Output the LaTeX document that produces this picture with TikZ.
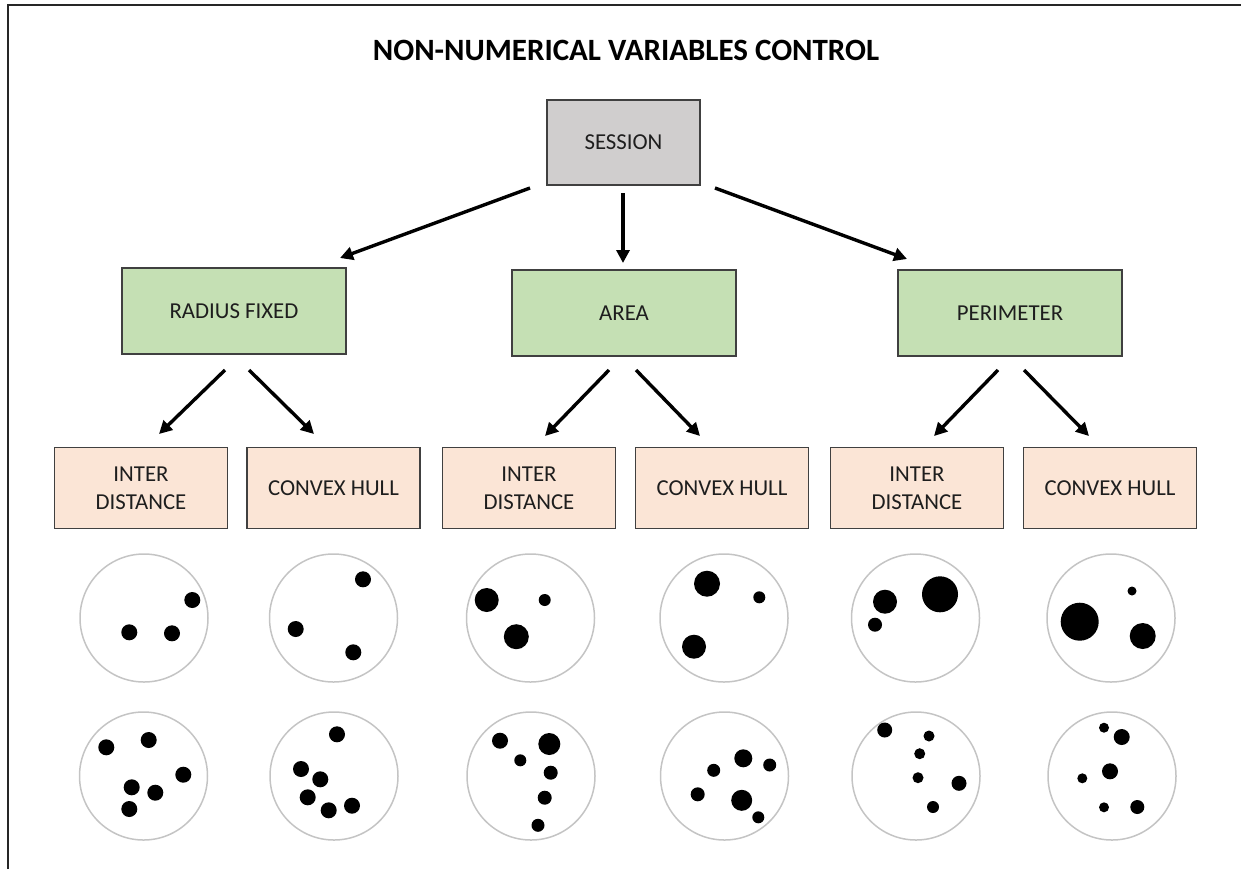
\documentclass[tikz,border=0pt]{standalone}
\usepackage{fontspec}
\setmainfont{Carlito}
\usetikzlibrary{arrows.meta}
\definecolor{sessfill}{HTML}{D0CECE}
\definecolor{greenfill}{HTML}{C5E0B4}
\definecolor{pinkfill}{HTML}{FBE5D6}
\definecolor{boxline}{HTML}{404040}
\definecolor{ringline}{HTML}{C4C4C4}
\definecolor{txt}{HTML}{1E1E1E}
\newcommand\spot[3]{\fill[black] (#1,#2) circle[radius=#3*0.5pt];}
\begin{document}
\begin{tikzpicture}[x=0.5pt,y=-0.5pt,
  basebox/.style={draw=boxline,line width=0.8pt,inner sep=0pt,text=txt,
    font=\fontsize{11.4}{14}\selectfont,align=center},
  sessbox/.style={basebox,fill=sessfill,minimum width=76.5pt,minimum height=42.5pt},
  greenbox/.style={basebox,fill=greenfill,minimum width=112pt,minimum height=43pt},
  pinkbox/.style={basebox,fill=pinkfill,minimum width=86.5pt,minimum height=40.5pt},
  ring/.style={circle,draw=ringline,line width=0.75pt,minimum size=64pt,inner sep=0pt},
  arr/.style={line width=1.7pt,-{Triangle[length=6.5pt,width=6.5pt]}},
  frame/.style={line width=1pt,draw=black!85}]
\useasboundingbox (0,0) rectangle (1241,869);
\draw[frame] (8,869) -- (8,5) -- (1241,5);
\node[font=\fontsize{15.5}{18}\selectfont\bfseries] (title) at (626,50) {NON-NUMERICAL VARIABLES CONTROL};
% boxes
\node[sessbox] (session) at (623.5,142.5) {SESSION};
\node[greenbox] (radius) at (234,311) {RADIUS FIXED};
\node[greenbox] (area) at (624,313) {AREA};
\node[greenbox] (perim) at (1010,313) {PERIMETER};
\node[pinkbox] (rid) at (141,488) {INTER\\DISTANCE};
\node[pinkbox] (rch) at (333.5,488) {CONVEX HULL};
\node[pinkbox] (aid) at (529,488) {INTER\\DISTANCE};
\node[pinkbox] (ach) at (722,488) {CONVEX HULL};
\node[pinkbox] (pid) at (917,488) {INTER\\DISTANCE};
\node[pinkbox] (pch) at (1110,488) {CONVEX HULL};
% arrow ends
\coordinate (sL0) at (530,188); \coordinate (sL1) at (340,258);
\coordinate (sM0) at (623,193); \coordinate (sM1) at (623,263);
\coordinate (sR0) at (715,188); \coordinate (sR1) at (907,259);
\coordinate (rL0) at (225,370); \coordinate (rL1) at (159,434);
\coordinate (rR0) at (249,370); \coordinate (rR1) at (314,434);
\coordinate (aL0) at (609,370); \coordinate (aL1) at (545,436);
\coordinate (aR0) at (636,370); \coordinate (aR1) at (700,436);
\coordinate (pL0) at (998,370); \coordinate (pL1) at (934,436);
\coordinate (pR0) at (1024,370); \coordinate (pR1) at (1089,436);
\draw[arr] (sL0) -- (sL1);
\draw[arr] (sM0) -- (sM1);
\draw[arr] (sR0) -- (sR1);
\draw[arr] (rL0) -- (rL1);
\draw[arr] (rR0) -- (rR1);
\draw[arr] (aL0) -- (aL1);
\draw[arr] (aR0) -- (aR1);
\draw[arr] (pL0) -- (pL1);
\draw[arr] (pR0) -- (pR1);
% rings row 1
\node[ring] (r11) at (144,618) {};
\node[ring] (r12) at (333.5,618) {};
\node[ring] (r13) at (530.5,618) {};
\node[ring] (r14) at (724,618) {};
\node[ring] (r15) at (915.5,618) {};
\node[ring] (r16) at (1111,618) {};
% rings row 2
\node[ring] (r21) at (143.5,776) {};
\node[ring] (r22) at (334,776) {};
\node[ring] (r23) at (531,776) {};
\node[ring] (r24) at (724.5,776) {};
\node[ring] (r25) at (916,776) {};
\node[ring] (r26) at (1112,776) {};
% dots row 1
\spot{192.3}{600}{8} \spot{129.3}{632.3}{8} \spot{172}{633.3}{8}
\spot{363}{579.3}{8} \spot{295.7}{629}{8} \spot{353.3}{652.3}{8}
\spot{486.7}{600}{12} \spot{544.7}{600}{6} \spot{516.3}{636.7}{12.5}
\spot{707}{583.7}{13} \spot{759.3}{597.3}{6} \spot{694}{646.7}{12}
\spot{885}{601.7}{12} \spot{940}{594.3}{18} \spot{875}{624.7}{7}
\spot{1079.7}{621.7}{19} \spot{1142.7}{636}{13} \spot{1132}{591}{4.5}
% dots row 2
\spot{106.3}{747.3}{8} \spot{148.7}{740}{8} \spot{183.3}{774.7}{8}
\spot{131.7}{787.3}{8} \spot{155.3}{792.7}{8} \spot{129.3}{809}{8}
\spot{337}{734.3}{8} \spot{301}{769}{8} \spot{320.3}{779.3}{8}
\spot{307.7}{797.3}{8} \spot{328.7}{810.3}{8} \spot{352}{805.7}{8}
\spot{500}{740.7}{8} \spot{549.3}{744}{11} \spot{520.3}{760.3}{6}
\spot{550.7}{772.7}{7} \spot{544.7}{797.7}{7} \spot{538}{825.3}{6.5}
\spot{743.3}{758.3}{9} \spot{713.7}{770.3}{6.5} \spot{769.7}{765}{6.5}
\spot{697.7}{794.3}{7} \spot{741.7}{800.3}{10.5} \spot{758.3}{817.3}{6}
\spot{884.7}{730}{7.5} \spot{929}{736}{5.5} \spot{919.7}{753.7}{5.5}
\spot{918}{777.7}{5.5} \spot{959}{783.3}{7.5} \spot{933}{807}{6}
\spot{1104}{727.7}{5} \spot{1121.7}{737}{8} \spot{1110}{771.3}{8}
\spot{1082.3}{778.3}{5} \spot{1104}{807.3}{5} \spot{1137.3}{807}{7}
\end{tikzpicture}
\end{document}
